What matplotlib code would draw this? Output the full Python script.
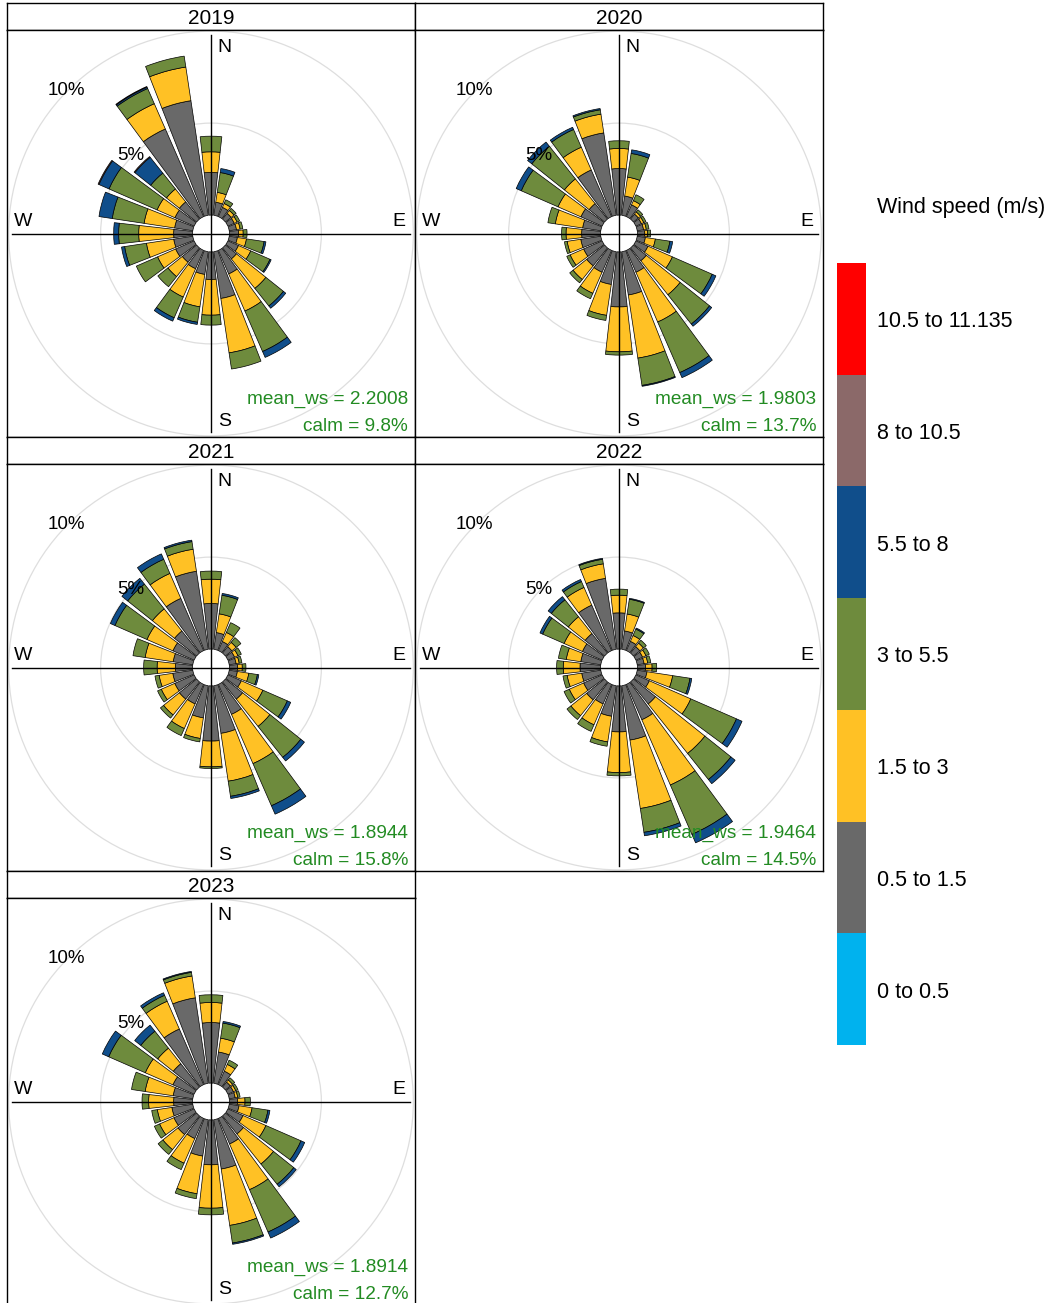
import numpy as np
import matplotlib
matplotlib.use("Agg")
import matplotlib.pyplot as plt
from matplotlib.patches import Wedge, Circle, Rectangle

plt.rcParams['font.family'] = ['Liberation Sans', 'DejaVu Sans']

# ---------------------------------------------------------------
# data: frequency (%) per 15 degree sector, sectors 0,15,...,345
directions = list(range(0, 360, 15))
years = ['2019', '2020', '2021', '2022', '2023']
mean_ws = ['2.2008', '1.9803', '1.8944', '1.9464', '1.8914']
calm = ['9.8', '13.7', '15.8', '14.5', '12.7']

speed_labels = ['0 to 0.5', '0.5 to 1.5', '1.5 to 3', '3 to 5.5', '5.5 to 8',
                '8 to 10.5', '10.5 to 11.135']
speed_colors = ['#00B2EE', '#696969', '#FFC125', '#6E8B3D', '#104E8B',
                '#8B6969', '#FF0000']

ws05_15_2019 = [2.32, 0.72, 0.55, 0.4, 0.38, 0.4, 0.5, 0.45, 0.63, 0.77, 1.4, 2.57, 1.5, 1.25, 1.09, 1.0, 1.1, 1.05, 1.03, 1.0, 1.14, 1.2, 5.2, 6.3]
ws15_3_2019 = [1.12, 0.54, 0.23, 0.2, 0.17, 0.2, 0.25, 0.5, 0.73, 2.05, 2.2, 2.99, 1.94, 1.78, 1.68, 1.0, 1.07, 1.5, 1.9, 1.68, 1.06, 0.9, 1.5, 1.85]
ws3_55_2019 = [0.85, 1.09, 0.22, 0.15, 0.15, 0.15, 0.21, 0.97, 1.14, 1.22, 2.4, 0.89, 0.54, 0.85, 1.23, 0.7, 1.26, 1.2, 1.09, 1.75, 2.85, 1.1, 0.9, 0.6]
ws55_8_2019 = [0, 0.22, 0, 0, 0, 0, 0, 0.1, 0.07, 0.16, 0.35, 0, 0, 0.12, 0.2, 0, 0, 0.17, 0.27, 0.73, 0.6, 1.1, 0.08, 0]
ws8_105_2019 = [0, 0, 0, 0, 0, 0, 0, 0, 0, 0, 0, 0, 0, 0, 0, 0, 0, 0, 0, 0, 0.05, 0.05, 0.04, 0]

ws05_15_2020 = [2.53, 1.06, 0.7, 0.35, 0.33, 0.35, 0.4, 0.45, 0.72, 0.9, 1.3, 2.38, 2.99, 1.8, 1.3, 1.25, 1.1, 1.1, 1.03, 1.0, 1.26, 1.08, 2.77, 4.53]
ws15_3_2020 = [1.09, 1.04, 0.25, 0.15, 0.14, 0.15, 0.15, 0.55, 1.45, 2.36, 2.95, 3.47, 2.44, 1.7, 1.25, 0.95, 0.8, 0.75, 0.85, 1.5, 1.36, 1.72, 1.35, 1.03]
ws3_55_2020 = [0.42, 1.3, 0.35, 0.15, 0.13, 0.15, 0.17, 0.8, 2.36, 2.04, 3.0, 1.5, 0.18, 0.28, 0.32, 0.23, 0.2, 0.15, 0.24, 0.41, 2.18, 2.27, 1.05, 0.24]
ws55_8_2020 = [0, 0.2, 0, 0, 0, 0, 0, 0.15, 0.22, 0.15, 0.3, 0.05, 0, 0, 0, 0, 0, 0, 0, 0, 0.3, 0.29, 0.13, 0.07]

ws05_15_2021 = [2.48, 0.92, 0.54, 0.45, 0.4, 0.38, 0.45, 0.45, 0.8, 1.2, 1.78, 2.62, 3.0, 1.77, 1.16, 1.2, 1.15, 1.1, 0.94, 1.08, 1.26, 1.54, 3.1, 4.29]
ws15_3_2021 = [1.32, 1.03, 0.54, 0.3, 0.2, 0.17, 0.25, 0.63, 1.28, 1.9, 2.92, 2.63, 1.4, 1.13, 1.46, 1.1, 0.8, 0.75, 0.99, 1.54, 1.54, 1.54, 1.48, 1.21]
ws3_55_2021 = [0.44, 1.02, 0.58, 0.33, 0.2, 0.15, 0.2, 0.47, 1.45, 2.15, 2.5, 0.83, 0.09, 0.19, 0.42, 0.22, 0.22, 0.23, 0.73, 0.67, 1.9, 1.72, 0.84, 0.42]
ws55_8_2021 = [0, 0.1, 0, 0, 0, 0, 0, 0.08, 0.2, 0.25, 0.5, 0.12, 0, 0, 0, 0, 0, 0, 0, 0, 0.27, 0.4, 0.32, 0.08]

ws05_15_2022 = [1.97, 1.01, 0.55, 0.45, 0.4, 0.38, 0.45, 0.54, 0.8, 1.54, 2.1, 2.99, 2.5, 1.68, 1.16, 1.25, 1.1, 1.05, 1.12, 1.1, 1.17, 1.36, 2.7, 3.9]
ws15_3_2022 = [0.96, 0.93, 0.35, 0.25, 0.2, 0.2, 0.35, 1.41, 2.46, 3.44, 3.87, 3.76, 2.21, 1.41, 1.24, 1.1, 0.85, 0.8, 0.91, 0.8, 1.09, 1.17, 1.05, 0.8]
ws3_55_2022 = [0.33, 0.81, 0.38, 0.2, 0.2, 0.17, 0.25, 0.95, 2.71, 1.81, 2.93, 1.31, 0.18, 0.24, 0.39, 0.27, 0.31, 0.23, 0.36, 0.43, 1.27, 1.18, 0.35, 0.25]
ws55_8_2022 = [0, 0.05, 0.06, 0, 0, 0, 0, 0.1, 0.33, 0.29, 0.5, 0.19, 0, 0, 0, 0, 0, 0, 0, 0, 0.16, 0.22, 0.12, 0.05]

ws05_15_2023 = [3.29, 1.72, 0.8, 0.35, 0.33, 0.33, 0.45, 0.54, 0.9, 1.26, 1.52, 2.71, 2.44, 2.0, 1.2, 1.3, 1.2, 1.15, 1.03, 1.08, 1.26, 1.63, 3.3, 4.7]
ws15_3_2023 = [1.09, 0.76, 0.4, 0.15, 0.14, 0.14, 0.4, 0.72, 1.36, 2.09, 2.71, 3.1, 2.36, 2.07, 1.46, 1.05, 0.85, 0.8, 1.36, 1.54, 1.64, 1.08, 1.65, 1.2]
ws3_55_2023 = [0.42, 0.83, 0.25, 0.15, 0.13, 0.13, 0.29, 0.87, 2.08, 1.41, 2.51, 0.97, 0.36, 0.27, 0.38, 0.33, 0.31, 0.31, 0.36, 0.75, 2.17, 1.18, 0.35, 0.2]
ws55_8_2023 = [0, 0.09, 0, 0, 0, 0, 0, 0.11, 0.22, 0.17, 0.36, 0.07, 0, 0, 0, 0, 0, 0, 0, 0, 0.38, 0.42, 0.15, 0.05]

zeros = [0] * len(directions)
# speed bins in order: 0-0.5, 0.5-1.5, 1.5-3, 3-5.5, 5.5-8, 8-10.5, 10.5-11.135
panels = {
    '2019': [zeros, ws05_15_2019, ws15_3_2019, ws3_55_2019, ws55_8_2019, ws8_105_2019, zeros],
    '2020': [zeros, ws05_15_2020, ws15_3_2020, ws3_55_2020, ws55_8_2020, zeros, zeros],
    '2021': [zeros, ws05_15_2021, ws15_3_2021, ws3_55_2021, ws55_8_2021, zeros, zeros],
    '2022': [zeros, ws05_15_2022, ws15_3_2022, ws3_55_2022, ws55_8_2022, zeros, zeros],
    '2023': [zeros, ws05_15_2023, ws15_3_2023, ws3_55_2023, ws55_8_2023, zeros, zeros],
}

# ---------------------------------------------------------------
W, H = 1052, 1303
fig = plt.figure(figsize=(W / 100, H / 100), dpi=100)


def box(x0, y0, w, h):
    return [x0 / W, 1 - (y0 + h) / H, w / W, h / H]


offset = 1.0      # empty hole in the middle, in % units
half_width = 6.4  # half angular width of a sector bar
text_green = '#228B22'

for i, yr in enumerate(years):
    col, row = i % 2, i // 2
    x0 = 7 + col * 408
    y0 = 3 + row * 434

    strip = fig.add_axes(box(x0, y0, 408, 27))
    strip.set_xticks([])
    strip.set_yticks([])
    for sp in strip.spines.values():
        sp.set_linewidth(1.0)
    strip.text(0.5, 0.42, yr, ha='center', va='center', fontsize=15,
               transform=strip.transAxes)

    ax = fig.add_axes(box(x0, y0 + 27, 408, 407))
    ax.set_xlim(-11.09, 11.09)
    ax.set_ylim(-11.06, 11.06)
    ax.set_xticks([])
    ax.set_yticks([])
    for sp in ax.spines.values():
        sp.set_linewidth(1.0)

    # grid circles
    for pct in [5, 10, 15]:
        ax.add_patch(Circle((0, 0), offset + pct, fill=False,
                            edgecolor='#DEDEDE', lw=0.9, zorder=1))

    # stacked sector bars
    freqs = panels[yr]
    for k, d in enumerate(directions):
        cum = 0.0
        for b in range(len(freqs)):
            v = freqs[b][k]
            if v <= 0:
                continue
            w = Wedge((0, 0), offset + cum + v, 90 - d - half_width,
                      90 - d + half_width, width=v,
                      facecolor=speed_colors[b], edgecolor='black',
                      lw=0.5, zorder=2)
            ax.add_patch(w)
            cum += v

    # axis cross
    ax.plot([0, 0], [-10.8, 10.8], color='black', lw=1.0, zorder=3)
    ax.plot([-10.8, 10.8], [0, 0], color='black', lw=1.0, zorder=3)

    ax.text(0.72, 10.1, 'N', fontsize=14, ha='center', va='center', zorder=4)
    ax.text(0.72, -10.2, 'S', fontsize=14, ha='center', va='center', zorder=4)
    ax.text(-10.2, 0.66, 'W', fontsize=14, ha='center', va='center', zorder=4)
    ax.text(10.2, 0.66, 'E', fontsize=14, ha='center', va='center', zorder=4)

    for pct in [5, 10]:
        r = offset + pct
        ax.text(-r * np.sin(np.pi / 4) - 0.1, r * np.cos(np.pi / 4), f'{pct}%',
                fontsize=13.5, ha='center', va='center', zorder=4)

    ax.text(10.72, -9.0, f'mean_ws = {mean_ws[i]}', color=text_green,
            fontsize=13.7, ha='right', va='center', zorder=4)
    ax.text(10.72, -10.5, f'calm = {calm[i]}%', color=text_green,
            fontsize=13.7, ha='right', va='center', zorder=4)

# ---------------------------------------------------------------
# colour key
leg = fig.add_axes(box(837, 263, 29, 782))
leg.set_xlim(0, 1)
leg.set_ylim(0, len(speed_labels))
leg.axis('off')
for b, (lab, c) in enumerate(zip(speed_labels, speed_colors)):
    leg.add_patch(Rectangle((0, b), 1, 1, facecolor=c, edgecolor='none'))
    fig.text(877 / W, 1 - (1048 - (b + 0.5) * 782 / 7) / H, lab,
             fontsize=15.5, ha='left', va='center')

fig.text(877 / W, 1 - 208 / H, 'Wind speed (m/s)', fontsize=15.5,
         ha='left', va='center')

fig.savefig('out.png', dpi=100)
